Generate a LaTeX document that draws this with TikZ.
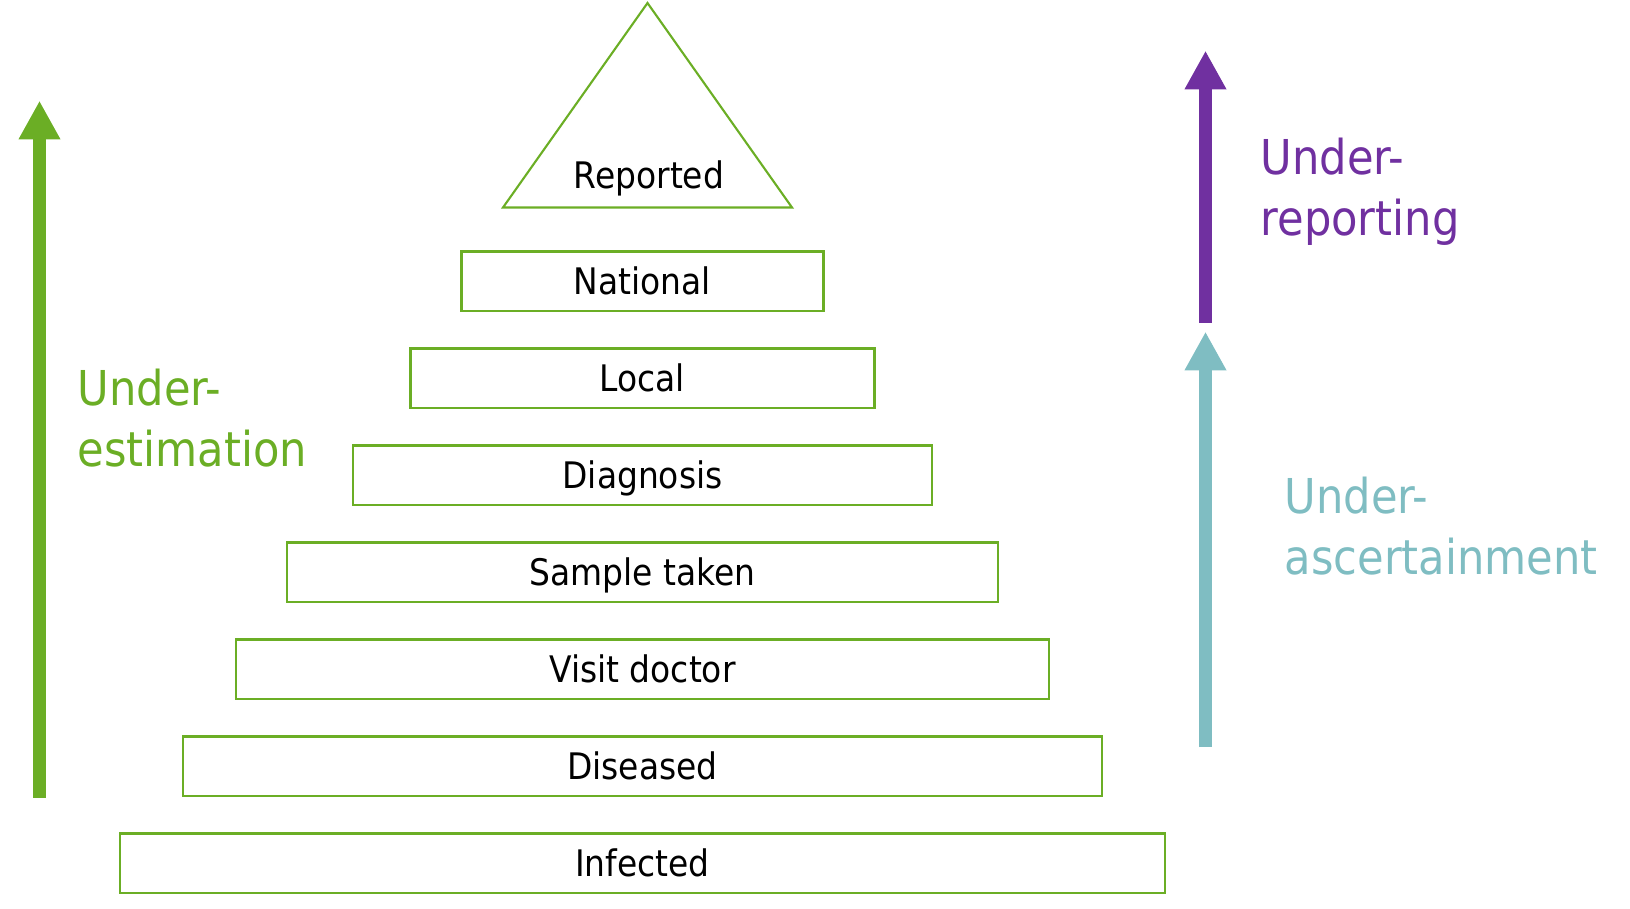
\documentclass[tikz,border=0pt]{standalone}
\usepackage{fontspec}
\setmainfont{DejaVu Sans Condensed}
\usetikzlibrary{arrows.meta}

\definecolor{pyrgreen}{RGB}{107,174,37}
\definecolor{pyrpurple}{RGB}{112,48,160}
\definecolor{pyrteal}{RGB}{127,189,194}

\tikzset{
    stage/.style={draw=pyrgreen, line width=0.6pt, minimum height=0.593cm, inner sep=0pt,
        font=\fontsize{10.4pt}{12pt}\selectfont, text height=7.6pt, text depth=0pt},
    bigarrow/.style={line width=0.13cm, -{Triangle[width=0.39cm,length=0.386cm]}},
    sidelabel/.style={anchor=base west, align=left, inner sep=0pt,
        font=\fontsize{13.66pt}{17.3pt}\selectfont},
}

\begin{document}
\begin{tikzpicture}[x=0.01cm, y=-0.01cm]
        % Define Variables
        \def\mid{642.5}
        \def\pitch{97}
        \useasboundingbox (0,0) rectangle (1630,909);

        % Pyramid levels
        \foreach \name/\lbl/\w [count=\i from 0] in {inf/Infected/1045, dis/Diseased/919, vis/Visit doctor/813, smp/Sample taken/711, dgn/Diagnosis/579, loc/Local/464, nat/National/362}
            \node[stage, minimum width=\w*0.01cm] (\name) at (\mid, 863.2-\pitch*\i) {\lbl};

        % Top triangle
        \coordinate (apex) at (647.5,3);
        \coordinate (bl) at (503,207.5);
        \coordinate (br) at (792,207.5);
        \draw[pyrgreen, line width=0.6pt] (apex) -- (bl) -- (br) -- cycle;
        \node[anchor=base, inner sep=0pt, font=\fontsize{10.4pt}{12pt}\selectfont] (rep) at (649,188) {Reported};

        % Under-estimation (base = last line)
        \coordinate (est-s) at (39.5,797.7);
        \coordinate (est-e) at (39.5,100.7);
        \draw[bigarrow, pyrgreen] (est-s) -- (est-e);
        \node[sidelabel, text=pyrgreen] (est) at (77,466.7) {Under-\\estimation};

        % Under-reporting
        \coordinate (rpt-s) at (1205.5,322.7);
        \coordinate (rpt-e) at (1205.5,50.7);
        \draw[bigarrow, pyrpurple] (rpt-s) -- (rpt-e);
        \node[sidelabel, text=pyrpurple] (rpt) at (1260,235) {Under-\\reporting};

        % Under-ascertainment
        \coordinate (asc-s) at (1205.5,747);
        \coordinate (asc-e) at (1205.5,331.7);
        \draw[bigarrow, pyrteal] (asc-s) -- (asc-e);
        \node[sidelabel, text=pyrteal] (asc) at (1284,574.3) {Under-\\ascertainment};

    \end{tikzpicture}
\end{document}
